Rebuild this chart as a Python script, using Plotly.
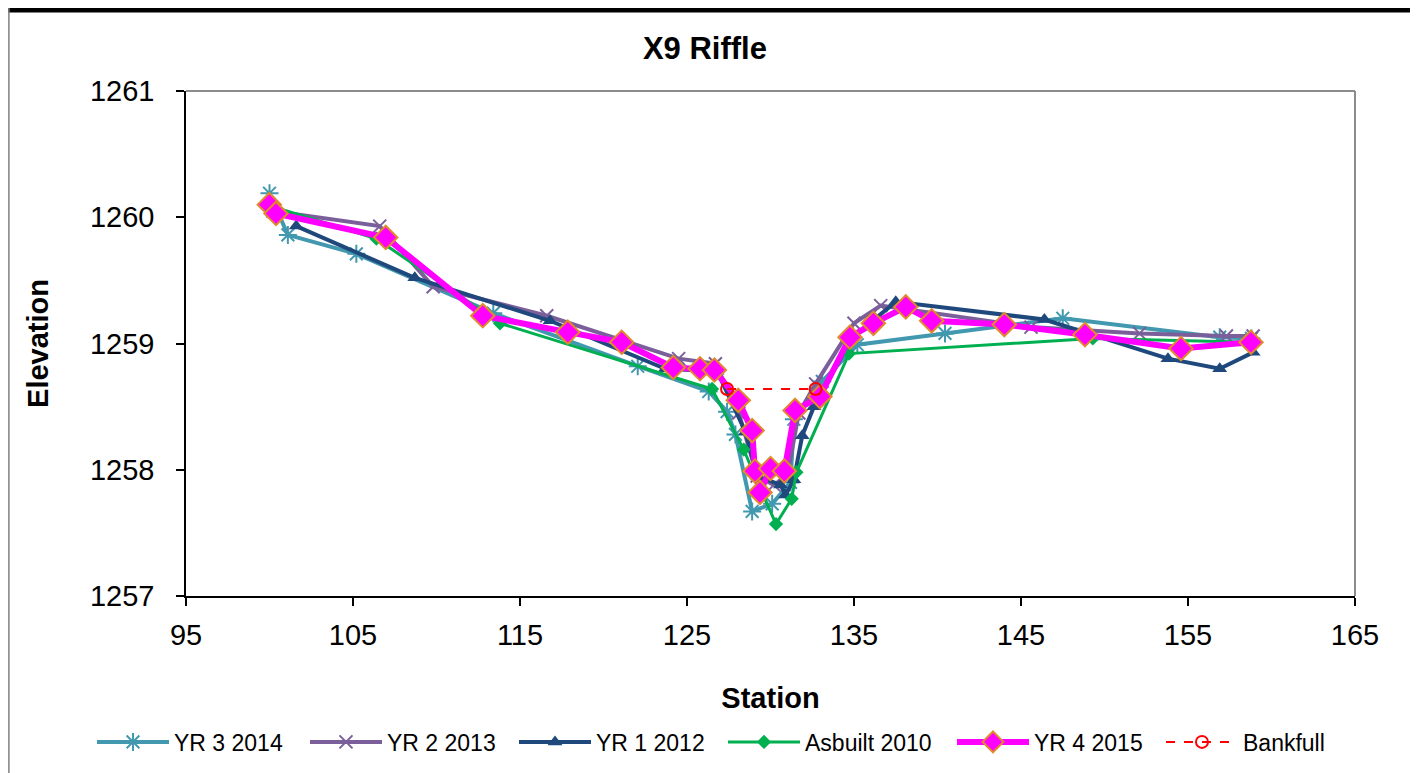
import plotly.graph_objects as go

# ---- data ----
yr3_x = [100.0, 101.1, 105.2, 113.4, 122.05, 126.3, 127.4, 127.9, 128.9, 130.1, 131.2, 131.4, 133.1, 135.2, 140.45, 147.5, 156.9, 158.8]
yr3_y = [1260.19, 1259.86, 1259.71, 1259.24, 1258.82, 1258.62, 1258.46, 1258.28, 1257.67, 1257.73, 1257.9, 1258.4, 1258.7, 1258.99, 1259.08, 1259.2, 1259.05, 1259.04]

yr2_x = [100.2, 106.6, 109.8, 116.6, 124.5, 126.7, 128.1, 129.2, 130.2, 131.0, 131.7, 132.7, 135.0, 136.6, 145.6, 152.1, 157.3, 158.9]
yr2_y = [1260.05, 1259.93, 1259.45, 1259.22, 1258.88, 1258.84, 1258.45, 1257.95, 1257.88, 1257.95, 1258.45, 1258.68, 1259.16, 1259.30, 1259.13, 1259.08, 1259.06, 1259.06]

yr1_x = [101.6, 108.7, 116.8, 123.7, 126.8, 128.5, 129.2, 130.6, 130.9, 131.4, 131.9, 132.6, 134.9, 137.5, 146.4, 153.8, 156.9, 158.9]
yr1_y = [1259.93, 1259.52, 1259.18, 1258.80, 1258.78, 1258.30, 1257.95, 1257.88, 1257.80, 1257.92, 1258.27, 1258.50, 1259.05, 1259.33, 1259.19, 1258.88, 1258.80, 1258.93]

asb_x = [100.3, 106.4, 113.8, 126.5, 128.4, 128.9, 130.33, 131.27, 131.55, 134.7, 149.3, 158.8]
asb_y = [1260.08, 1259.83, 1259.16, 1258.64, 1258.16, 1258.0, 1257.57, 1257.77, 1257.98, 1258.92, 1259.04, 1259.01]

yr4_x = [99.99, 100.39, 106.96, 112.77, 117.86, 121.09, 124.18, 125.78, 126.64, 128.07, 128.9, 129.07, 129.37, 130.0, 130.83, 131.47, 132.96, 134.76, 136.16, 138.1, 139.65, 144.0, 148.83, 154.58, 158.77]
yr4_y = [1260.10, 1260.03, 1259.84, 1259.22, 1259.09, 1259.01, 1258.81, 1258.80, 1258.79, 1258.55, 1258.31, 1257.99, 1257.82, 1258.01, 1257.99, 1258.47, 1258.58, 1259.05, 1259.16, 1259.29, 1259.18, 1259.15, 1259.07, 1258.96, 1259.01]

bkf_x = [127.4, 132.7]
bkf_y = [1258.64, 1258.64]

x_ticks = [95, 105, 115, 125, 135, 145, 155, 165]
y_ticks = [1257, 1258, 1259, 1260, 1261]

FONT = "Liberation Sans, Arial, sans-serif"

fig = go.Figure()
fig.add_trace(go.Scatter(x=yr3_x, y=yr3_y, name="YR 3 2014", mode="lines+markers", legendwidth=126,
                         line=dict(color="#4198AF", width=4),
                         marker=dict(symbol="asterisk-open", size=15, color="#4198AF",
                                     line=dict(color="#4198AF", width=2))))
fig.add_trace(go.Scatter(x=yr2_x, y=yr2_y, name="YR 2 2013", mode="lines+markers", legendwidth=122,
                         line=dict(color="#7A5F9A", width=4),
                         marker=dict(symbol="x-thin-open", size=13, color="#7A5F9A",
                                     line=dict(color="#7A5F9A", width=2))))
fig.add_trace(go.Scatter(x=yr1_x, y=yr1_y, name="YR 1 2012", mode="lines+markers", legendwidth=122,
                         line=dict(color="#1F497D", width=4),
                         marker=dict(symbol="triangle-up", size=13, color="#1F497D")))
fig.add_trace(go.Scatter(x=asb_x, y=asb_y, name="Asbuilt 2010", mode="lines+markers", legendwidth=142,
                         line=dict(color="#00B050", width=3),
                         marker=dict(symbol="diamond", size=11, color="#00B050")))
fig.add_trace(go.Scatter(x=yr4_x, y=yr4_y, name="YR 4 2015", mode="lines+markers", legendwidth=122,
                         line=dict(color="#FF00FF", width=6),
                         marker=dict(symbol="diamond", size=18, color="#FF00FF",
                                     line=dict(color="#E08A2C", width=2))))
fig.add_trace(go.Scatter(x=bkf_x, y=bkf_y, name="Bankfull", mode="lines+markers", legendwidth=95,
                         line=dict(color="#FF0000", width=2, dash="dash"),
                         marker=dict(symbol="circle-open", size=12, color="#FF0000",
                                     line=dict(color="#FF0000", width=2))))

fig.update_layout(
    width=1410, height=765,
    margin=dict(l=178, r=63, t=83, b=177, autoexpand=False),
    paper_bgcolor="white", plot_bgcolor="white",
    font=dict(family=FONT, color="black"),
    title=dict(text="<b>X9 Riffle</b>", x=0.4943, xanchor="center", y=0.9477, yanchor="middle",
               font=dict(size=31, family=FONT, color="black")),
    showlegend=True,
    legend=dict(orientation="h", x=(84 - 178) / 1169, xanchor="left", y=-0.289, yanchor="middle",
                font=dict(size=23, family=FONT), itemwidth=72, bgcolor="rgba(0,0,0,0)",
                tracegroupgap=0),
    xaxis=dict(range=[95, 165], tickvals=x_ticks, ticktext=[str(v) for v in x_ticks],
               showgrid=False, zeroline=False, showline=True, linecolor="black", linewidth=1.5,
               ticks="outside", ticklen=8, tickcolor="black", tickwidth=1.5,
               tickfont=dict(size=29, family=FONT), ticklabelstandoff=4,
               title=dict(text="<b>Station</b>", font=dict(size=29, family=FONT), standoff=38)),
    yaxis=dict(range=[1257, 1261], tickvals=y_ticks, ticktext=[str(v) for v in y_ticks],
               showgrid=False, zeroline=False, showline=True, linecolor="black", linewidth=1.5,
               ticks="outside", ticklen=8, tickcolor="black", tickwidth=1.5,
               tickfont=dict(size=29, family=FONT), ticklabelstandoff=16,
               title=dict(text="<b>Elevation</b>", font=dict(size=29, family=FONT), standoff=33)),
)

# plot-area border (top and right in gray) and outer chart frame
fig.add_shape(type="line", xref="paper", yref="paper", x0=0, x1=1, y0=1, y1=1,
              line=dict(color="#8C8C8C", width=2), layer="below")
fig.add_shape(type="line", xref="paper", yref="paper", x0=1, x1=1, y0=0, y1=1,
              line=dict(color="#8C8C8C", width=2), layer="below")
fig.add_shape(type="line", xref="paper", yref="paper", x0=-0.2, x1=1.1, y0=1.1604, y1=1.1604,
              line=dict(color="black", width=5))
fig.add_shape(type="line", xref="paper", yref="paper", x0=-0.1515, x1=-0.1515, y0=-0.4, y1=1.17,
              line=dict(color="#808080", width=1.5))
fig.add_shape(type="line", xref="paper", yref="paper", x0=1.0479, x1=1.0479, y0=-0.4, y1=1.17,
              line=dict(color="#404040", width=1.5))

fig.write_html("out.html")
